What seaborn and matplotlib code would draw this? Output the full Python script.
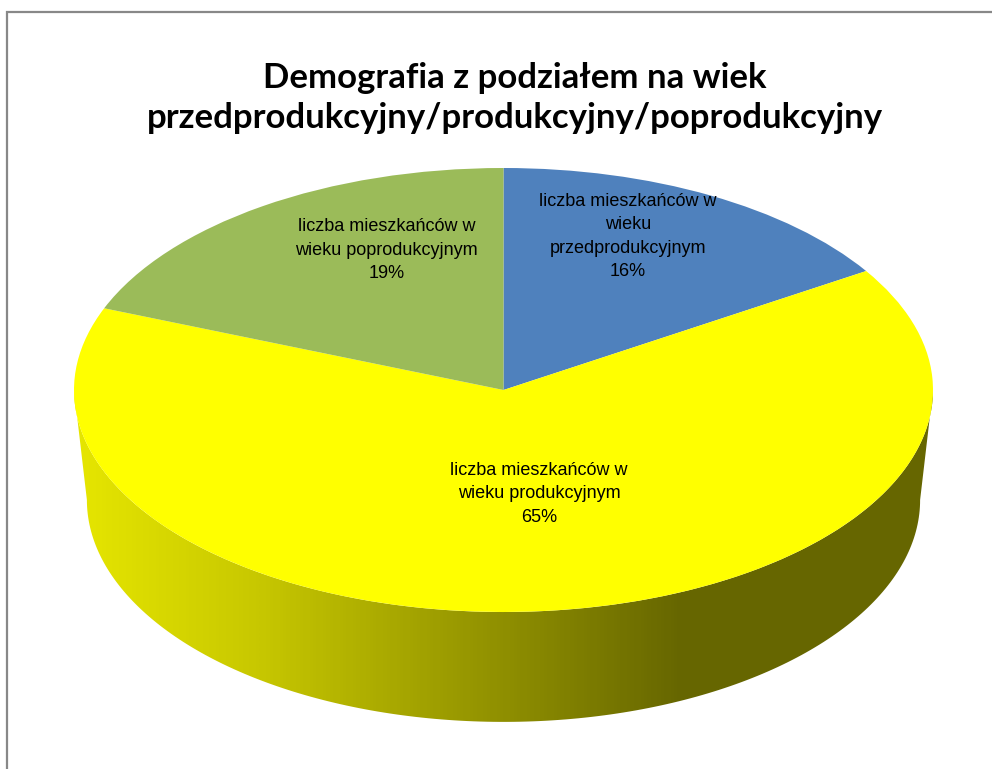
import numpy as np
import matplotlib
matplotlib.use("Agg")
import matplotlib.pyplot as plt
import seaborn as sns
from matplotlib.colors import LinearSegmentedColormap
from matplotlib.patches import Polygon, Rectangle

# ==========================================
# DONNÉES
# ==========================================
TITLE = "Demografia z podziałem na wiek\nprzedprodukcyjny/produkcyjny/poprodukcyjny"
categories = [
    "liczba mieszkańców w\nwieku\nprzedprodukcyjnym",
    "liczba mieszkańców w\nwieku produkcyjnym",
    "liczba mieszkańców w\nwieku poprodukcyjnym",
]
shares = [16, 65, 19]
colors = ["#4F81BD", "#FFFF00", "#9BBB59"]

# ==========================================
# MISE EN PAGE (pixels de la figure 992x769)
# ==========================================
W, H = 992, 769
CX, CY = 503.5, 390      # centre de l'ellipse du dessus
RX, RY = 429.5, 222      # demi-axes
DEPTH = 0.495            # épaisseur du "3D" (unités du rayon)
BOTTOM_SCALE = 0.97      # perspective : ellipse du bas un peu plus étroite
CENTER_SHIFT = 0.2       # centre apparent du camembert (perspective)
LABEL_R = [0.56, 0.67, 0.52]

sns.set_theme(style="white")
plt.rcParams["font.family"] = ["Liberation Sans", "DejaVu Sans"]

fig = plt.figure(figsize=(W / 100, H / 100), dpi=100)
ax = fig.add_axes([0, 0, 1, 1])

# camembert du dessus (ellipse obtenue via l'aspect des axes)
wedges, _ = ax.pie(shares, colors=colors, startangle=90, counterclock=False,
                   radius=1, center=(0, 0),
                   wedgeprops=dict(linewidth=0, zorder=3))

ax.set_xlim((0 - CX) / RX, (W - CX) / RX)
ax.set_ylim((CY - H) / RY, CY / RY)
ax.set_aspect("auto")
ax.axis("off")

# paroi latérale avec dégradé
t = np.linspace(np.pi, 2 * np.pi, 200)
top = np.column_stack([np.cos(t), np.sin(t)])
bot = np.column_stack([BOTTOM_SCALE * np.cos(t[::-1]), -DEPTH + np.sin(t[::-1])])
wall = Polygon(np.vstack([top, bot]), closed=True, facecolor="none",
               edgecolor="none", zorder=1)
ax.add_patch(wall)

side_cmap = LinearSegmentedColormap.from_list(
    "side", [(0.0, "#E6E600"), (0.21, "#C8C800"), (0.71, "#666600"), (1.0, "#666600")])
grad = np.linspace(0, 1, 256).reshape(1, -1)
img = ax.imshow(grad, cmap=side_cmap, aspect="auto",
                extent=[-1, 1, -1 - DEPTH - 0.02, 0.02], zorder=1,
                interpolation="bilinear")
img.set_clip_path(wall)

# étiquettes
for w, name, val, r in zip(wedges, categories, shares, LABEL_R):
    mid = np.deg2rad((w.theta1 + w.theta2) / 2)
    ax.text(r * np.cos(mid) + 0.02, r * np.sin(mid) + CENTER_SHIFT, f"{name}\n{val}%",
            ha="center", va="center", fontsize=13, color="black",
            linespacing=1.5, zorder=5)

fig.text(515 / W, 1 - 98 / H, TITLE, ha="center", va="center", color="black",
         fontsize=25, fontweight="bold", family=["Lato", "DejaVu Sans"],
         linespacing=1.3)

# cadre gris
fig.patches.append(Rectangle((7 / W, -0.1), 1.2, (H - 12) / H + 0.1,
                             transform=fig.transFigure, fill=False,
                             edgecolor="#888888", linewidth=1.6))

fig.savefig("out.png", dpi=100)
